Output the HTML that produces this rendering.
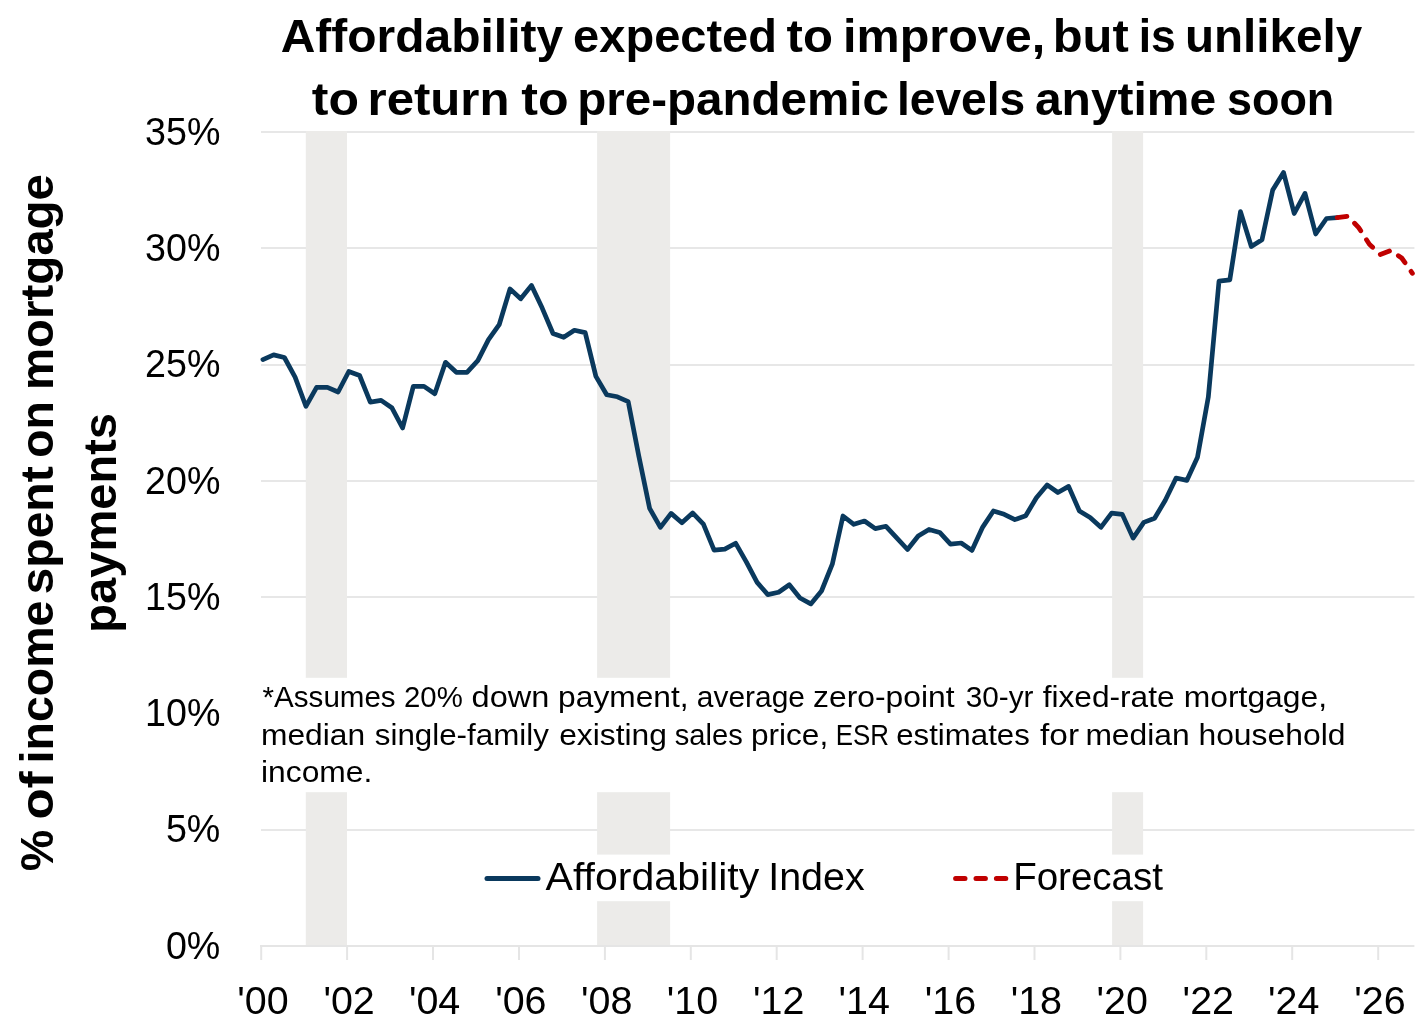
<!DOCTYPE html><html><head><meta charset="utf-8"><title>Affordability chart</title>
<style>html,body{margin:0;padding:0;background:#fff}svg{display:block}text{font-family:"Liberation Sans",sans-serif;fill:#000}</style></head><body>
<svg width="1420" height="1029" viewBox="0 0 1420 1029">
<rect width="1420" height="1029" fill="#fff"/>
<rect x="261" y="131" width="1153.4" height="2" fill="#e7e7e7"/>
<rect x="261" y="247" width="1153.4" height="2" fill="#e7e7e7"/>
<rect x="261" y="364" width="1153.4" height="2" fill="#e7e7e7"/>
<rect x="261" y="480" width="1153.4" height="2" fill="#e7e7e7"/>
<rect x="261" y="596" width="1153.4" height="2" fill="#e7e7e7"/>
<rect x="261" y="712" width="1153.4" height="2" fill="#e7e7e7"/>
<rect x="261" y="829" width="1153.4" height="2" fill="#e7e7e7"/>
<rect x="305.8" y="131" width="41.2" height="815" fill="#ecebe9"/>
<rect x="597.1" y="131" width="73.0" height="815" fill="#ecebe9"/>
<rect x="1112.1" y="131" width="31.0" height="815" fill="#ecebe9"/>
<line x1="260" x2="1414.4" y1="946" y2="946" stroke="#e5e5e5" stroke-width="2"/>
<line x1="261.2" x2="261.2" y1="946" y2="960" stroke="#e5e5e5" stroke-width="2"/>
<line x1="347.1" x2="347.1" y1="946" y2="960" stroke="#e5e5e5" stroke-width="2"/>
<line x1="433.0" x2="433.0" y1="946" y2="960" stroke="#e5e5e5" stroke-width="2"/>
<line x1="519.0" x2="519.0" y1="946" y2="960" stroke="#e5e5e5" stroke-width="2"/>
<line x1="604.9" x2="604.9" y1="946" y2="960" stroke="#e5e5e5" stroke-width="2"/>
<line x1="690.8" x2="690.8" y1="946" y2="960" stroke="#e5e5e5" stroke-width="2"/>
<line x1="776.7" x2="776.7" y1="946" y2="960" stroke="#e5e5e5" stroke-width="2"/>
<line x1="862.6" x2="862.6" y1="946" y2="960" stroke="#e5e5e5" stroke-width="2"/>
<line x1="948.6" x2="948.6" y1="946" y2="960" stroke="#e5e5e5" stroke-width="2"/>
<line x1="1034.5" x2="1034.5" y1="946" y2="960" stroke="#e5e5e5" stroke-width="2"/>
<line x1="1120.4" x2="1120.4" y1="946" y2="960" stroke="#e5e5e5" stroke-width="2"/>
<line x1="1206.3" x2="1206.3" y1="946" y2="960" stroke="#e5e5e5" stroke-width="2"/>
<line x1="1292.2" x2="1292.2" y1="946" y2="960" stroke="#e5e5e5" stroke-width="2"/>
<line x1="1378.2" x2="1378.2" y1="946" y2="960" stroke="#e5e5e5" stroke-width="2"/>
<polyline points="262.9,359.6 273.6,354.9 284.4,357.5 295.1,377.1 305.9,406.3 316.6,387.4 327.4,387.4 338.1,392.0 348.8,371.5 359.6,375.5 370.3,402.1 381.1,400.4 391.8,407.7 402.6,428.0 413.3,386.4 424.0,386.4 434.8,393.7 445.5,362.3 456.3,372.3 467.0,372.3 477.8,360.6 488.5,339.6 499.2,324.7 510.0,288.9 520.7,298.8 531.5,285.4 542.2,308.1 553.0,333.5 563.7,337.3 574.4,330.3 585.2,332.6 595.9,376.4 606.7,394.7 617.4,396.8 628.2,401.6 638.9,456.5 649.6,508.3 660.4,527.4 671.1,513.4 681.9,522.7 692.6,512.9 703.4,524.1 714.1,550.2 724.8,549.1 735.6,543.2 746.3,561.9 757.1,582.4 767.8,594.6 778.6,592.2 789.3,584.8 800.0,598.0 810.8,603.9 821.5,591.0 832.3,564.2 843.0,516.0 853.8,524.3 864.5,521.0 875.3,528.6 886.0,526.3 896.7,537.9 907.5,549.5 918.2,536.0 929.0,529.4 939.7,532.4 950.5,544.2 961.2,543.0 971.9,550.4 982.7,527.1 993.4,511.0 1004.2,514.3 1014.9,519.6 1025.7,515.7 1036.4,497.7 1047.1,484.9 1057.9,492.5 1068.6,486.4 1079.4,511.0 1090.1,517.4 1100.9,527.3 1111.6,513.1 1122.3,514.4 1133.1,538.1 1143.8,522.4 1154.6,518.3 1165.3,500.2 1176.1,478.0 1186.8,480.4 1197.5,457.2 1208.3,397.2 1219.0,281.1 1229.8,279.8 1240.5,211.6 1251.3,246.5 1262.0,239.7 1272.7,189.9 1283.5,172.4 1294.2,213.5 1305.0,193.4 1315.7,234.0 1326.5,218.5 1337.2,217.6" fill="none" stroke="#0a395d" stroke-width="4.7" stroke-linejoin="round" stroke-linecap="round"/>
<polyline points="1337.2,217.6 1347.9,216.3 1358.7,227.6 1369.4,244.2 1380.2,254.5 1390.9,250.5 1401.7,258.0 1412.4,273.3" fill="none" stroke="#c00000" stroke-width="4.8" stroke-linejoin="round" stroke-linecap="round" stroke-dasharray="9.8 10.6"/>
<rect x="255" y="677.8" width="1165" height="114.4" fill="#fff"/>
<rect x="470" y="854.6" width="710" height="46.6" fill="#fff"/>
<line x1="487" x2="538" y1="878.4" y2="878.4" stroke="#0a395d" stroke-width="5" stroke-linecap="round"/>
<line x1="955.6" x2="1010" y1="878.6" y2="878.6" stroke="#c00000" stroke-width="5" stroke-linecap="round" stroke-dasharray="9.4 11"/>
<text transform="translate(545.56,889.9) scale(1.0803,1)" font-size="38" font-weight="normal">Affordability</text>
<text transform="translate(768.17,889.9) scale(1.0382,1)" font-size="38" font-weight="normal">Index</text>
<text transform="translate(1013.13,889.8) scale(1.0140,1)" font-size="38" font-weight="normal">Forecast</text>
<text transform="translate(280.65,52.2) scale(1.0208,1)" font-size="47" font-weight="bold">Affordability</text>
<text transform="translate(573.12,52.2) scale(1.0008,1)" font-size="47" font-weight="bold">expected</text>
<text transform="translate(786.58,52.2) scale(1.0452,1)" font-size="47" font-weight="bold">to</text>
<text transform="translate(843.05,52.2) scale(1.0317,1)" font-size="47" font-weight="bold">improve,</text>
<text transform="translate(1052.75,52.2) scale(1.0407,1)" font-size="47" font-weight="bold">but</text>
<text transform="translate(1138.73,52.2) scale(0.9441,1)" font-size="47" font-weight="bold">is</text>
<text transform="translate(1184.89,52.2) scale(1.0129,1)" font-size="47" font-weight="bold">unlikely</text>
<text transform="translate(311.77,115.0) scale(1.0643,1)" font-size="47" font-weight="bold">to</text>
<text transform="translate(367.53,115.0) scale(1.0459,1)" font-size="47" font-weight="bold">return</text>
<text transform="translate(521.27,115.0) scale(1.0667,1)" font-size="47" font-weight="bold">to</text>
<text transform="translate(577.24,115.0) scale(1.0118,1)" font-size="47" font-weight="bold">pre-pandemic</text>
<text transform="translate(896.91,115.0) scale(0.9825,1)" font-size="47" font-weight="bold">levels</text>
<text transform="translate(1034.90,115.0) scale(1.0210,1)" font-size="47" font-weight="bold">anytime</text>
<text transform="translate(1226.95,115.0) scale(0.9561,1)" font-size="47" font-weight="bold">soon</text>
<text transform="translate(52.8,871.32) rotate(-90) scale(0.9924,1)" font-size="47" font-weight="bold">%</text>
<text transform="translate(52.8,819.44) rotate(-90) scale(1.0862,1)" font-size="47" font-weight="bold">of</text>
<text transform="translate(52.8,763.42) rotate(-90) scale(0.9898,1)" font-size="47" font-weight="bold">income</text>
<text transform="translate(52.8,594.46) rotate(-90) scale(1.0231,1)" font-size="47" font-weight="bold">spent</text>
<text transform="translate(52.8,457.65) rotate(-90) scale(0.9843,1)" font-size="47" font-weight="bold">on</text>
<text transform="translate(52.8,390.05) rotate(-90) scale(1.0085,1)" font-size="47" font-weight="bold">mortgage</text>
<text transform="translate(115.6,632.63) rotate(-90) scale(1.0015,1)" font-size="47" font-weight="bold">payments</text>
<text transform="translate(145.06,144.6) scale(0.965,1)" font-size="39">35%</text>
<text transform="translate(145.06,260.9) scale(0.965,1)" font-size="39">30%</text>
<text transform="translate(145.06,377.2) scale(0.965,1)" font-size="39">25%</text>
<text transform="translate(145.06,493.5) scale(0.965,1)" font-size="39">20%</text>
<text transform="translate(145.06,609.7) scale(0.965,1)" font-size="39">15%</text>
<text transform="translate(145.06,726.0) scale(0.965,1)" font-size="39">10%</text>
<text transform="translate(165.93,842.3) scale(0.965,1)" font-size="39">5%</text>
<text transform="translate(165.93,958.6) scale(0.965,1)" font-size="39">0%</text>
<text transform="translate(237.24,1014.3) scale(1.0273,1)" font-size="38.4">'00</text>
<text transform="translate(323.42,1014.3) scale(1.0273,1)" font-size="38.4">'02</text>
<text transform="translate(408.89,1014.3) scale(1.0273,1)" font-size="38.4">'04</text>
<text transform="translate(495.13,1014.3) scale(1.0273,1)" font-size="38.4">'06</text>
<text transform="translate(581.05,1014.3) scale(1.0273,1)" font-size="38.4">'08</text>
<text transform="translate(666.84,1014.3) scale(1.0273,1)" font-size="38.4">'10</text>
<text transform="translate(753.02,1014.3) scale(1.0273,1)" font-size="38.4">'12</text>
<text transform="translate(838.49,1014.3) scale(1.0273,1)" font-size="38.4">'14</text>
<text transform="translate(924.73,1014.3) scale(1.0273,1)" font-size="38.4">'16</text>
<text transform="translate(1010.65,1014.3) scale(1.0273,1)" font-size="38.4">'18</text>
<text transform="translate(1096.44,1014.3) scale(1.0273,1)" font-size="38.4">'20</text>
<text transform="translate(1182.62,1014.3) scale(1.0273,1)" font-size="38.4">'22</text>
<text transform="translate(1268.09,1014.3) scale(1.0273,1)" font-size="38.4">'24</text>
<text transform="translate(1354.33,1014.3) scale(1.0273,1)" font-size="38.4">'26</text>
<text transform="translate(262.61,707.0) scale(0.9859,1)" font-size="30" font-weight="normal">*Assumes</text>
<text transform="translate(404.03,707.0) scale(0.9791,1)" font-size="30" font-weight="normal">20%</text>
<text transform="translate(471.54,707.0) scale(1.0847,1)" font-size="30" font-weight="normal">down</text>
<text transform="translate(558.12,707.0) scale(1.0574,1)" font-size="30" font-weight="normal">payment,</text>
<text transform="translate(696.85,707.0) scale(0.9974,1)" font-size="30" font-weight="normal">average</text>
<text transform="translate(813.07,707.0) scale(1.0614,1)" font-size="30" font-weight="normal">zero-point</text>
<text transform="translate(965.68,707.0) scale(0.9918,1)" font-size="30" font-weight="normal">30-yr</text>
<text transform="translate(1042.70,707.0) scale(1.0553,1)" font-size="30" font-weight="normal">fixed-rate</text>
<text transform="translate(1183.78,707.0) scale(1.0608,1)" font-size="30" font-weight="normal">mortgage,</text>
<text transform="translate(260.98,744.6) scale(1.0582,1)" font-size="30" font-weight="normal">median</text>
<text transform="translate(374.79,744.6) scale(1.0443,1)" font-size="30" font-weight="normal">single-family</text>
<text transform="translate(559.18,744.6) scale(1.0589,1)" font-size="30" font-weight="normal">existing</text>
<text transform="translate(674.65,744.6) scale(0.9721,1)" font-size="30" font-weight="normal">sales</text>
<text transform="translate(750.93,744.6) scale(1.0531,1)" font-size="30" font-weight="normal">price,</text>
<text transform="translate(835.74,744.6) scale(0.8623,1)" font-size="30" font-weight="normal">ESR</text>
<text transform="translate(896.20,744.6) scale(1.0405,1)" font-size="30" font-weight="normal">estimates</text>
<text transform="translate(1040.08,744.6) scale(1.1136,1)" font-size="30" font-weight="normal">for</text>
<text transform="translate(1085.38,744.6) scale(1.0603,1)" font-size="30" font-weight="normal">median</text>
<text transform="translate(1198.44,744.6) scale(1.0620,1)" font-size="30" font-weight="normal">household</text>
<text transform="translate(260.98,782.3) scale(1.0610,1)" font-size="30" font-weight="normal">income.</text>
</svg></body></html>
